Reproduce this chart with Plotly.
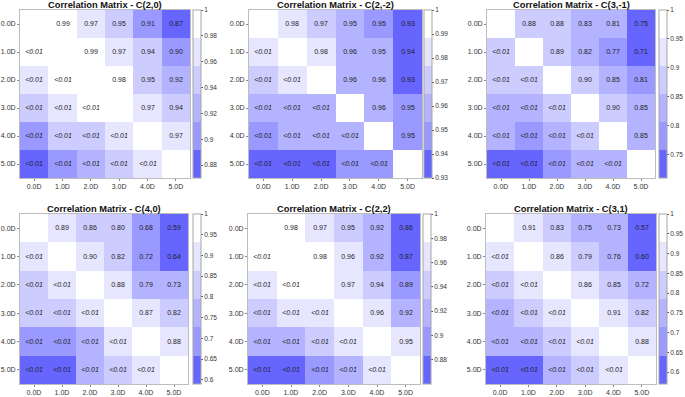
import plotly.graph_objects as go

# ---------------- data ----------------
labels = ["0.0D", "1.0D", "2.0D", "3.0D", "4.0D", "5.0D"]

titles = ["C(2,0)", "C(2,-2)", "C(3,-1)", "C(4,0)", "C(2,2)", "C(3,1)"]

# upper-triangle correlation coefficients (row i, columns i+1..5)
c20_upper = [
    [0.99, 0.97, 0.95, 0.91, 0.87],
    [0.99, 0.97, 0.94, 0.90],
    [0.98, 0.95, 0.92],
    [0.97, 0.94],
    [0.97],
]
c2m2_upper = [
    [0.98, 0.97, 0.954, 0.948, 0.93],
    [0.98, 0.96, 0.954, 0.94],
    [0.96, 0.96, 0.93],
    [0.96, 0.95],
    [0.95],
]
c3m1_upper = [
    [0.88, 0.88, 0.83, 0.81, 0.75],
    [0.89, 0.82, 0.77, 0.71],
    [0.90, 0.85, 0.806],
    [0.90, 0.85],
    [0.85],
]
c40_upper = [
    [0.89, 0.86, 0.80, 0.68, 0.59],
    [0.90, 0.82, 0.72, 0.64],
    [0.88, 0.79, 0.73],
    [0.87, 0.82],
    [0.88],
]
c22_upper = [
    [0.98, 0.97, 0.948, 0.92, 0.86],
    [0.98, 0.96, 0.92, 0.87],
    [0.97, 0.94, 0.89],
    [0.96, 0.92],
    [0.954],
]
c31_upper = [
    [0.91, 0.83, 0.75, 0.73, 0.57],
    [0.86, 0.79, 0.76, 0.60],
    [0.86, 0.85, 0.72],
    [0.91, 0.82],
    [0.88],
]
uppers = [c20_upper, c2m2_upper, c3m1_upper, c40_upper, c22_upper, c31_upper]

pvalue_label = "<0.01"  # all p-values shown in lower triangle

# colorbar tick values
ticks_c20 = [0.88, 0.90, 0.92, 0.94, 0.96, 0.98, 1.0]
ticks_c2m2 = [0.93, 0.94, 0.95, 0.96, 0.97, 0.98, 0.99, 1.0]
ticks_c3m1 = [0.75, 0.80, 0.85, 0.90, 0.95, 1.0]
ticks_c40 = [0.60, 0.65, 0.70, 0.75, 0.80, 0.85, 0.90, 0.95, 1.0]
ticks_c22 = [0.88, 0.90, 0.92, 0.94, 0.96, 0.98, 1.0]
ticks_c31 = [0.60, 0.65, 0.70, 0.75, 0.80, 0.85, 0.90, 0.95, 1.0]
tick_sets = [ticks_c20, ticks_c2m2, ticks_c3m1, ticks_c40, ticks_c22, ticks_c31]

# ---------------- styling ----------------
W, H = 685, 397
band_colors = [  # low -> high
    "rgb(102,102,255)",
    "rgb(153,153,255)",
    "rgb(179,179,255)",
    "rgb(204,204,255)",
    "rgb(230,230,255)",
    "rgb(255,255,255)",
]
n = len(band_colors)
colorscale = []
for i, c in enumerate(band_colors):
    colorscale.append([i / n, c])
    colorscale.append([(i + 1) / n, c])

# panel pixel boxes: (x0, x1, y0, y1, colorbar_x)
panels = [
    (20, 190, 10, 178, 193),
    (249, 422, 10, 178, 424),
    (487, 655, 10, 178, 659),
    (20, 188, 214, 384, 193),
    (248, 420, 214, 384, 423),
    (486, 656, 214, 384, 659),
]

FONT = "Liberation Sans, Arial, Helvetica, sans-serif"

fig = go.Figure()
annotations = []
layout_axes = {}

for k, (upper, ticks, title, box) in enumerate(zip(uppers, tick_sets, titles, panels)):
    m = len(labels)
    z = [[1.0] * m for _ in range(m)]
    txt = [[""] * m for _ in range(m)]
    for i, row in enumerate(upper):
        for j, v in enumerate(row):
            jj = i + 1 + j
            z[i][jj] = v
            z[jj][i] = v
            txt[i][jj] = f"{v:.2f}"
            txt[jj][i] = "<i>" + pvalue_label.replace("<", "&lt;") + "</i>"
    zmin = min(min(r) for r in z)
    x0, x1, y0, y1, cbx = box
    xa = "x" if k == 0 else f"x{k+1}"
    ya = "y" if k == 0 else f"y{k+1}"
    fig.add_trace(go.Heatmap(
        z=z, x=labels, y=labels, text=txt, texttemplate="%{text}",
        textfont=dict(family=FONT, size=7, color="rgb(30,30,30)"),
        colorscale=colorscale, zmin=zmin, zmax=1.0,
        xaxis=xa, yaxis=ya, hoverinfo="skip",
        colorbar=dict(
            x=cbx / W, xanchor="left", xpad=0, ypad=0,
            y=1 - (y0 + y1) / 2 / H, yanchor="middle",
            len=(y1 - y0) / H, lenmode="fraction",
            thickness=7.5, thicknessmode="pixels",
            outlinewidth=1, outlinecolor="#a6a6a6",
            tickmode="array", tickvals=ticks, ticktext=[f"{t:g}" for t in ticks],
            ticks="outside", ticklen=2, tickcolor="#555555",
            tickfont=dict(family=FONT, size=6.5, color="#333333"),
        ),
    ))
    xkey = "xaxis" if k == 0 else f"xaxis{k+1}"
    ykey = "yaxis" if k == 0 else f"yaxis{k+1}"
    layout_axes[xkey] = dict(
        domain=[x0 / W, x1 / W], anchor=ya, type="category",
        showgrid=False, zeroline=False, showline=True, linecolor="#bdbdbd",
        linewidth=1, mirror=True, ticks="outside", ticklen=2, tickcolor="#888888",
        tickfont=dict(family=FONT, size=7, color="#333333"), fixedrange=True,
    )
    layout_axes[ykey] = dict(
        domain=[1 - y1 / H, 1 - y0 / H], anchor=xa, type="category",
        autorange="reversed",
        showgrid=False, zeroline=False, showline=True, linecolor="#bdbdbd",
        linewidth=1, mirror=True, ticks="outside", ticklen=2, tickcolor="#888888",
        tickfont=dict(family=FONT, size=7, color="#333333"), fixedrange=True,
    )
    annotations.append(dict(
        text=f"<b>Correlation Matrix - {title}</b>",
        x=(x0 + x1) / 2 / W, y=1 - (y0 - 5) / H, xref="paper", yref="paper",
        xanchor="center", yanchor="middle", showarrow=False,
        font=dict(family=FONT, size=9.3, color="#111111"),
    ))

fig.update_layout(
    width=W, height=H,
    margin=dict(l=0, r=0, t=0, b=0),
    paper_bgcolor="white", plot_bgcolor="white",
    annotations=annotations,
    **layout_axes,
)

fig.write_html(
    "out.html",
    config={"displayModeBar": False},
    post_script="document.body.style.margin='0';",
)
